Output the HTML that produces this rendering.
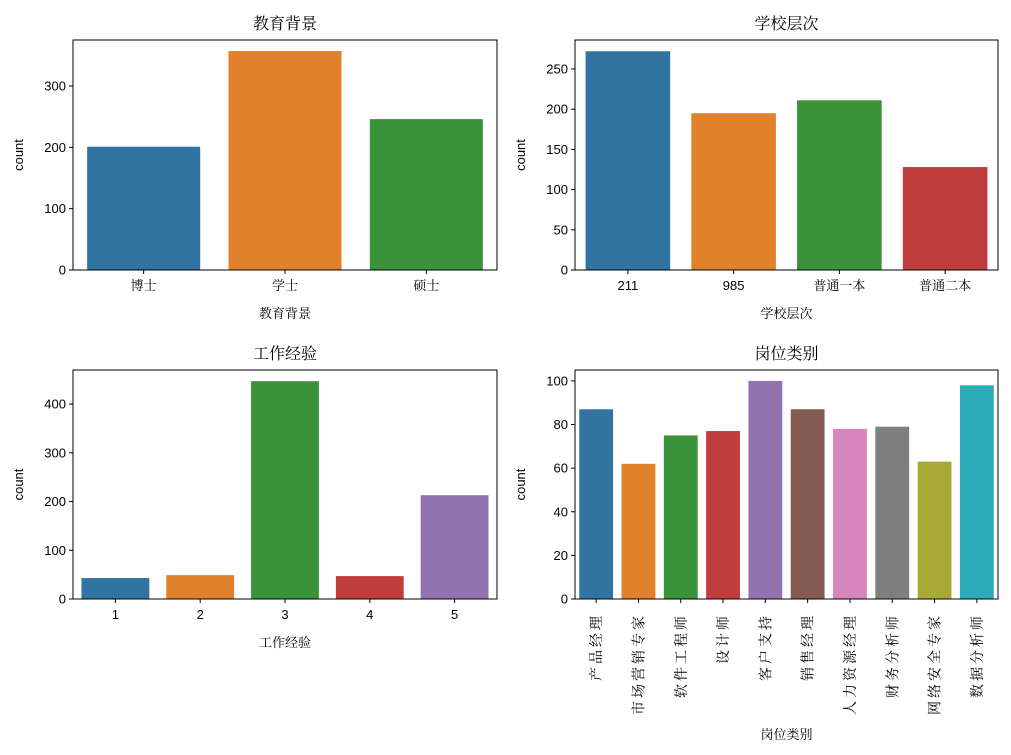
<!DOCTYPE html>
<html><head><meta charset="utf-8"><style>
html,body{margin:0;padding:0;background:#fff;}
svg{display:block;font-family:"Liberation Sans","Noto Serif CJK SC",serif;}
</style></head><body>
<svg id="fig" width="1011" height="755" viewBox="0 0 1011 755" xmlns="http://www.w3.org/2000/svg"></svg>
<script>
const eduCats=["博士","学士","硕士"];
const eduVals=[201,357,246];
const schoolCats=["211","985","普通一本","普通二本"];
const schoolVals=[272,195,211,128];
const expCats=["1","2","3","4","5"];
const expVals=[43,49,447,47,213];
const jobCats=["产品经理","市场营销专家","软件工程师","设计师","客户支持","销售经理","人力资源经理","财务分析师","网络安全专家","数据分析师"];
const jobVals=[87,62,75,77,100,87,78,79,63,98];
const eduTicks=[0,100,200,300];
const schoolTicks=[0,50,100,150,200,250];
const expTicks=[0,100,200,300,400];
const jobTicks=[0,20,40,60,80,100];
const colors=["#3274a1","#e1812c","#3a923a","#c03d3e","#9372b2","#845b53","#d684bd","#7f7f7f","#a9aa35","#2eabb8"];
const NS="http://www.w3.org/2000/svg";
const svg=document.getElementById('fig');
function el(tag,attrs,parent,text){const e=document.createElementNS(NS,tag);for(const k in attrs)e.setAttribute(k,attrs[k]);if(text!==undefined)e.textContent=text;(parent||svg).appendChild(e);return e;}
function panel(name,title,xlabel,cats,vals,ticks,ymax,box,rot){
  const [x0,y0,x1,y1]=box;
  const g=el('g',{});
  
  
  const n=cats.length;
  const xs=i=>x0+(i+0.5)*(x1-x0)/n;
  const ys=v=>y1-v/ymax*(y1-y0);
  const bw=0.8*(x1-x0)/n;
  vals.forEach((v,i)=>{
    const r=el('rect',{x:xs(i)-bw/2,y:ys(v),width:bw,height:y1-ys(v),fill:colors[i%10]},g);
    
    
  });
  const fr=el('rect',{x:x0,y:y0,width:x1-x0,height:y1-y0,fill:'none',stroke:'#000','stroke-width':1},g);
  
  
  ticks.forEach(t=>{
    const y=ys(t);
    el('line',{x1:x0-4,x2:x0,y1:y,y2:y,stroke:'#000'},g);
    const tx=el('text',{x:x0-7,y:y+4.5,'text-anchor':'end','font-size':13},g,String(t));
    
    
  });
  cats.forEach((c,i)=>{
    const x=xs(i);
    el('line',{x1:x,x2:x,y1:y1,y2:y1+4,stroke:'#000'},g);
    let tx;
    if(rot){
      tx=el('text',{x:0,y:0,'text-anchor':'end','font-size':14,'letter-spacing':3,transform:`translate(${x+5},${y1+14}) rotate(-90)`},g,c);
    }else{
      tx=el('text',{x:x,y:y1+20,'text-anchor':'middle','font-size':13},g,c);
    }
    
    
  });
  const t=el('text',{x:(x0+x1)/2,y:y0-11,'text-anchor':'middle','font-size':16},g,title);
  
  
  const xl=el('text',{x:(x0+x1)/2,y:rot?y1+140:y1+48,'text-anchor':'middle','font-size':13},g,xlabel);
  
  
  const yl=el('text',{x:0,y:0,'text-anchor':'middle','font-size':13,transform:`translate(${x0-50},${(y0+y1)/2}) rotate(-90)`},g,'count');
  
  
}
panel('education','教育背景','教育背景',eduCats,eduVals,eduTicks,375,[73,40,497,270],false);
panel('school','学校层次','学校层次',schoolCats,schoolVals,schoolTicks,286,[575,40,998,270],false);
panel('experience','工作经验','工作经验',expCats,expVals,expTicks,470,[73,370,497,599],false);
panel('job','岗位类别','岗位类别',jobCats,jobVals,jobTicks,105,[575,370,998,599],true);
</script>
</body></html>
